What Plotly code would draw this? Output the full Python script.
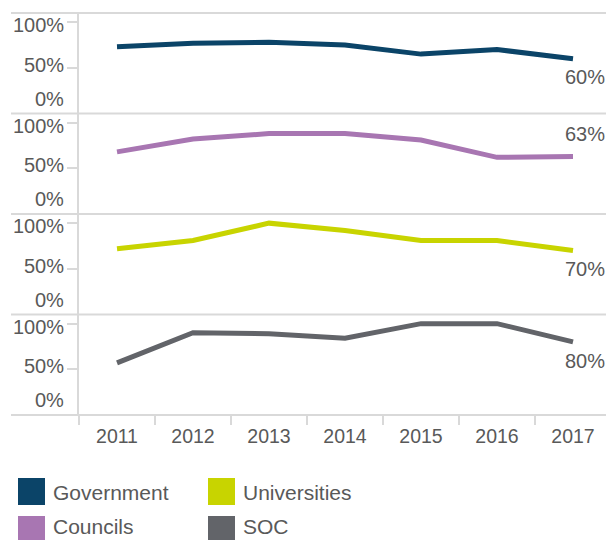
import plotly.graph_objects as go
from plotly.subplots import make_subplots

# Survey results by sector, 2011-2017 (percent)
years = ["2011", "2012", "2013", "2014", "2015", "2016", "2017"]
government = [73, 77, 78, 75, 65, 70, 60]
councils = [68, 82, 88, 88, 81, 62, 63]
universities = [72, 81, 100, 92, 81, 81, 70]
soc = [57, 90, 89, 84, 100, 100, 80]

series_names = ["Government", "Councils", "Universities", "SOC"]
series_values = [government, councils, universities, soc]
colors = ["#0b4468", "#a876b2", "#c8d400", "#626469"]
end_label_shift = [-18, 22, -18, -19]

y_tick_vals = [0, 50, 100]
y_tick_text = ["0%", "50%", "100%"]
y_label_shift = [15, 3, -3]

W, H = 606, 540
M_L, M_R, M_T, M_B = 79, 0, 13, 125
GRID = "#d9d9d9"
TEXT = "#595959"
FONT = "Liberation Sans, Arial, sans-serif"


def fx(px):
    return (px - M_L) / (W - M_L - M_R)


def fy(py):
    return (H - M_B - py) / (H - M_T - M_B)


fig = make_subplots(rows=4, cols=1, shared_xaxes=True, vertical_spacing=0)

last_idx = len(years) - 1
annotations = []
for i, (name, vals, color) in enumerate(zip(series_names, series_values, colors)):
    row = i + 1
    fig.add_trace(
        go.Scatter(x=years, y=vals, mode="lines", name=name,
                   line=dict(color=color, width=5),
                   showlegend=False, hoverinfo="skip"),
        row=row, col=1)
    suffix = "" if row == 1 else str(row)
    annotations.append(dict(
        x=last_idx, y=vals[-1], xref="x" + suffix, yref="y" + suffix,
        text=f"{vals[-1]}%", showarrow=False, xanchor="center",
        xshift=12, yshift=end_label_shift[i],
        font=dict(size=20, color=TEXT, family=FONT)))
    for v, t, s in zip(y_tick_vals, y_tick_text, y_label_shift):
        annotations.append(dict(
            x=fx(66), y=v, xref="paper", yref="y" + suffix,
            text=t, showarrow=False, xanchor="right", yanchor="middle",
            yshift=s, font=dict(size=20, color=TEXT, family=FONT)))

fig.update_yaxes(range=[0, 110], showgrid=False, zeroline=False,
                 showline=True, linecolor=GRID, linewidth=2,
                 ticks="outside", tickvals=[50, 100], ticklen=10,
                 tickcolor=GRID, tickwidth=1.5, showticklabels=False,
                 fixedrange=True)
fig.update_xaxes(type="category", range=[-0.5, 6.434], showgrid=False,
                 zeroline=False, showline=False, fixedrange=True)
fig.update_xaxes(row=4, col=1, ticks="outside", tickson="boundaries",
                 ticklen=9, tickwidth=2, tickcolor=GRID,
                 showticklabels=True, ticklabelstandoff=7,
                 tickfont=dict(size=19.5, color=TEXT, family=FONT))

# Panel separators spanning into the left margin
shapes = []
for k in range(5):
    yv = k / 4
    shapes.append(dict(type="line", xref="paper", yref="paper",
                       x0=fx(11), x1=1, y0=yv, y1=yv,
                       line=dict(color=GRID, width=2)))

# Legend: colour squares with labels (square top edge, label centre)
legend_pos = [(18, 478, 492), (18, 516, 526), (208, 478, 492), (208, 516, 526)]
for (lx, ly, ty), name, color in zip(legend_pos, series_names, colors):
    shapes.append(dict(type="rect", xref="paper", yref="paper",
                       x0=fx(lx), x1=fx(lx + 27), y0=fy(ly), y1=fy(ly + 27),
                       fillcolor=color, line=dict(width=0)))
    annotations.append(dict(
        x=fx(lx + 34), y=fy(ty), xref="paper", yref="paper",
        text=name, showarrow=False, xanchor="left", yanchor="middle",
        borderpad=0, font=dict(size=21, color=TEXT, family=FONT)))

fig.update_layout(
    width=W, height=H,
    margin=dict(l=M_L, r=M_R, t=M_T, b=M_B),
    paper_bgcolor="white", plot_bgcolor="white",
    shapes=shapes, annotations=annotations,
    font=dict(family=FONT, color=TEXT),
)

fig.write_html("out.html", config={"displayModeBar": False})
